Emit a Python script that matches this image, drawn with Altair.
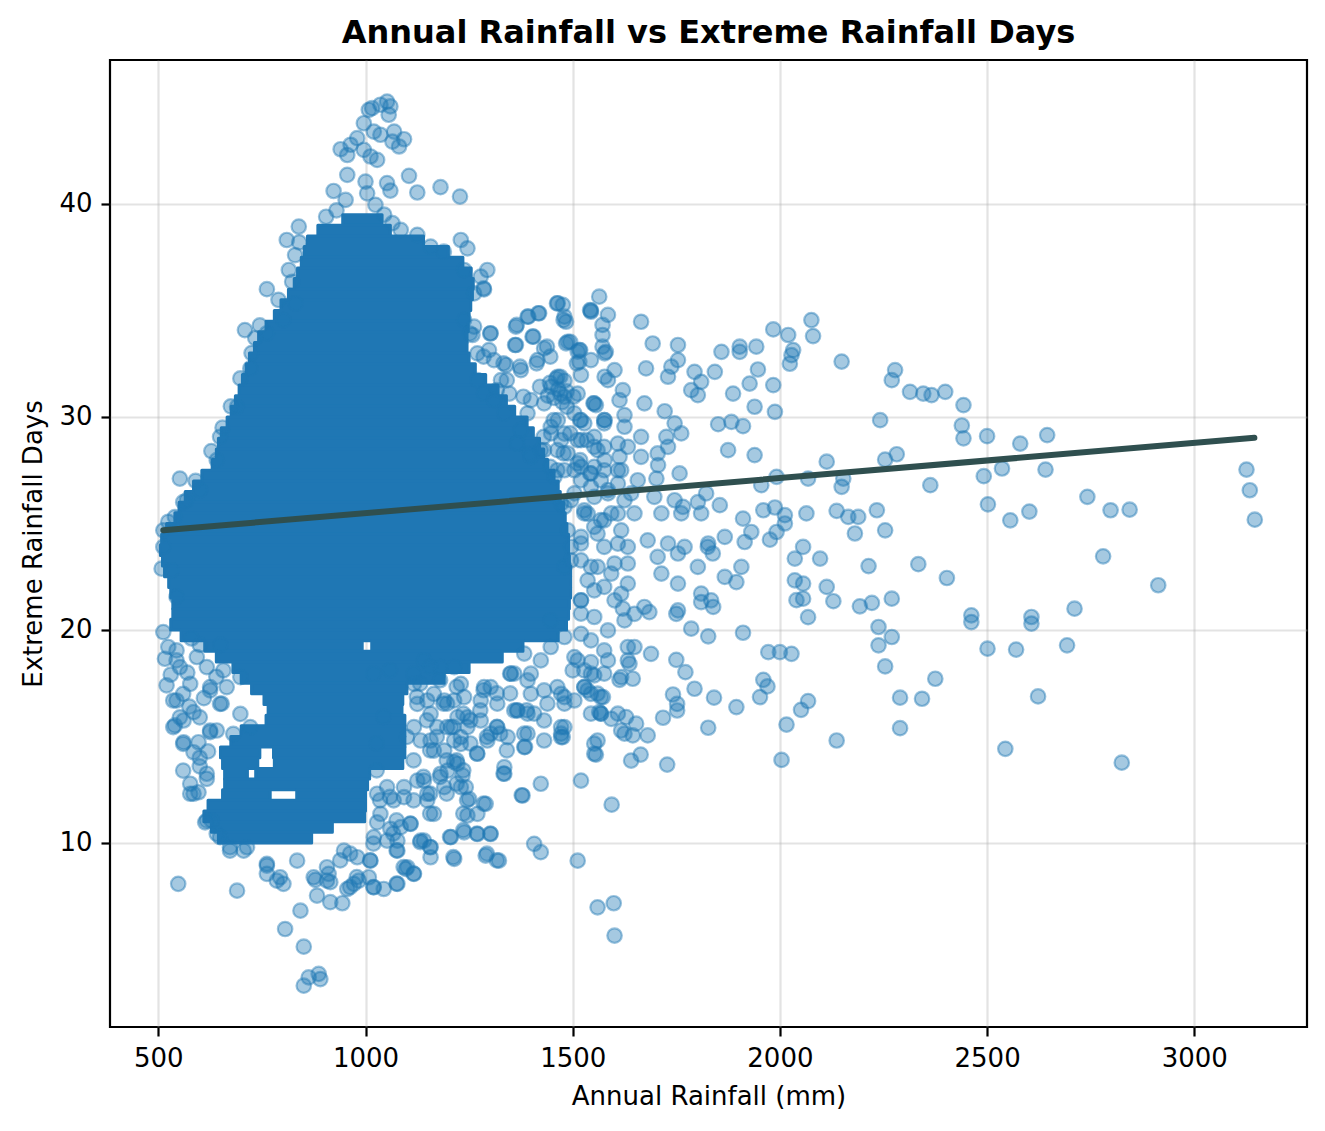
import pandas as pd
import altair as alt

# fitted trend line (end points)
trend_rain = [512, 3145]
trend_days = [24.68, 29.02]

# saturated core of the cloud: (days_lo, days_hi, rain_lo, rain_hi)
core_spans = [
    (39.0, 39.5, 945, 1040), (38.5, 39.0, 885, 1060), (38.0, 38.5, 860, 1140),
    (37.5, 38.0, 852, 1200), (37.0, 37.5, 845, 1235), (36.5, 37.0, 836, 1255),
    (36.0, 36.5, 828, 1260), (35.5, 36.0, 814, 1258), (35.0, 35.5, 796, 1254),
    (34.5, 35.0, 780, 1250), (34.0, 34.5, 760, 1248), (33.5, 34.0, 742, 1245),
    (33.0, 33.5, 732, 1245), (32.5, 33.0, 720, 1250), (32.0, 32.5, 712, 1265),
    (31.5, 32.0, 703, 1290), (31.0, 31.5, 695, 1320), (30.5, 31.0, 686, 1340),
    (30.0, 30.5, 676, 1360), (29.5, 30.0, 666, 1390), (29.0, 29.5, 652, 1405),
    (28.5, 29.0, 645, 1420), (28.0, 28.5, 640, 1430), (27.5, 28.0, 630, 1440),
    (27.0, 27.5, 605, 1455), (26.5, 27.0, 585, 1465), (26.0, 26.5, 565, 1470),
    (25.5, 26.0, 550, 1478), (25.0, 25.5, 540, 1482), (24.5, 25.0, 520, 1486),
    (24.0, 24.5, 508, 1490), (23.5, 24.0, 505, 1490), (23.0, 23.5, 510, 1492),
    (22.5, 23.0, 515, 1495), (22.0, 22.5, 525, 1495), (21.5, 22.0, 530, 1495),
    (21.0, 21.5, 535, 1492), (20.5, 21.0, 535, 1490), (20.0, 20.5, 530, 1485),
    (19.5, 20.0, 555, 1465), (19.0, 19.5, 612, 992), (19.0, 19.5, 1015, 1380),
    (18.5, 19.0, 640, 1330), (18.0, 18.5, 680, 1250), (17.5, 18.0, 700, 1190),
    (17.0, 17.5, 725, 1100), (16.5, 17.0, 755, 1090), (16.0, 16.5, 765, 1088),
    (15.5, 16.0, 760, 1095), (15.0, 15.5, 700, 1095), (14.5, 15.0, 675, 1095),
    (14.0, 14.5, 650, 745), (14.0, 14.5, 778, 1095), (13.5, 14.0, 655, 740),
    (13.5, 14.0, 780, 1090), (13.0, 13.5, 660, 715), (13.0, 13.5, 735, 1010),
    (12.5, 13.0, 660, 1005), (12.0, 12.5, 655, 770), (12.0, 12.5, 834, 1000),
    (11.5, 12.0, 620, 1000), (11.0, 11.5, 610, 998), (10.5, 11.0, 628, 920),
    (10.0, 10.5, 645, 870),
]

# (annual rainfall, extreme days) of the single points that stand out
peak_pts = [
    (1052, 44.81), (1036, 44.66), (1016, 44.50), (1060, 44.58), (1056, 44.19),
    (1008, 44.42), (996, 43.79), (1020, 43.40), (1036, 43.25), (1069, 43.40),
    (1093, 43.04), (1081, 42.70), (1065, 42.93), (980, 43.09), (964, 42.78),
    (940, 42.57), (956, 42.30), (996, 42.54), (1028, 42.07), (1012, 42.23),
    (956, 41.37), (1000, 41.05), (1052, 40.98), (1060, 40.63), (923, 40.61),
    (952, 40.19), (1024, 39.96), (1105, 41.32), (1125, 40.54), (1181, 40.79),
    (1228, 40.35), (1004, 40.50), (905, 39.40), (930, 39.70), (1045, 39.50),
    (1065, 39.10), (839, 38.94), (810, 38.31), (1085, 38.78), (1125, 38.55),
    (1157, 38.00), (1189, 37.76), (1230, 38.31), (1246, 37.92), (1238, 36.90),
    (1278, 36.59), (1294, 36.90), (1286, 35.99), (1262, 35.80), (1238, 34.55),
    (1262, 34.24), (1302, 33.93), (1298, 33.14), (1270, 31.73), (1286, 31.10),
    (1285, 36.04), (1252, 33.92), (1301, 33.92), (1365, 34.32), (1393, 34.71),
    (1417, 34.87), (1462, 35.33), (1478, 34.55), (1405, 33.77), (1361, 33.38),
    (1438, 33.30), (1333, 32.52), (1373, 32.36), (1413, 32.52), (1446, 32.83),
    (1494, 33.53), (1518, 33.14), (1510, 32.52), (1542, 35.02), (1285, 32.83),
    (1341, 31.73), (1317, 31.26), (1381, 30.95), (1421, 31.42), (1470, 31.89),
    (1470, 31.10), (1486, 30.48), (1502, 30.95), (1518, 29.85), (1550, 30.64),
    (1494, 29.23), (1534, 28.91), (1454, 29.85), (1430, 29.07), (1478, 28.29),
    (1446, 27.66), (1518, 27.97), (1542, 27.35), (1365, 28.76), (1397, 28.29),
    (1445, 31.60), (1465, 31.30), (1480, 31.70), (1455, 30.90), (1475, 30.70),
    (1440, 31.00), (1460, 31.80), (1485, 31.20),
]

left_pts = [
    (762, 36.00), (709, 34.08), (734, 33.70), (762, 33.93), (698, 31.81),
    (722, 32.28), (690, 30.48), (649, 29.07), (641, 27.97), (552, 27.11),
    (569, 26.10), (601, 26.57), (524, 25.08), (512, 24.68), (823, 36.35),
    (802, 34.55), (831, 35.34), (655, 29.50), (628, 28.40), (590, 27.00),
    (560, 26.00), (540, 25.30), (675, 30.50), (725, 33.00), (745, 34.30),
    (790, 35.50), (815, 36.90), (830, 37.60), (840, 38.20),
    (512, 23.90), (508, 22.88), (532, 22.80), (544, 21.55), (512, 19.90),
    (524, 19.20), (516, 18.65), (544, 18.57), (520, 17.40), (544, 16.69),
    (585, 16.14), (540, 15.52), (561, 15.75), (561, 14.73), (597, 14.73),
    (585, 14.26), (625, 17.32), (653, 16.54), (625, 15.20), (641, 15.28),
    (577, 12.78), (577, 12.31), (597, 12.38), (617, 13.01),
    (536, 16.69), (552, 15.90), (536, 15.44), (560, 14.65), (625, 15.28),
    (649, 16.53), (665, 17.32), (698, 16.06), (722, 15.44), (681, 15.12),
    (617, 18.26), (657, 18.10), (593, 18.73), (552, 18.26), (544, 19.04),
    (577, 17.47), (625, 17.16), (698, 17.79), (585, 12.31), (617, 13.25),
    (617, 11.05), (641, 10.43), (673, 9.80), (714, 9.80),
    (530, 17.90), (560, 17.00), (575, 16.40), (600, 15.90), (610, 16.80),
    (640, 17.80), (600, 19.30), (580, 19.60), (650, 19.30), (570, 18.00),
    (600, 14.00), (620, 14.30), (560, 13.40), (600, 13.60),
]

low_pts = [
    (762, 9.02), (794, 8.39), (835, 9.17), (875, 8.39), (907, 8.86), (907, 8.23),
    (948, 9.64), (980, 9.33), (1012, 9.17), (1020, 7.92), (972, 8.08), (548, 8.08),
    (690, 7.76), (613, 10.97), (629, 11.05), (649, 10.27), (673, 9.64), (706, 9.64),
    (762, 8.94), (762, 8.55), (786, 8.23), (802, 8.08), (879, 8.27), (911, 8.55),
    (915, 8.16), (883, 7.53), (915, 7.22), (944, 7.17), (843, 6.82), (806, 5.96),
    (851, 5.13), (851, 3.30), (863, 3.69), (887, 3.85), (891, 3.61), (956, 7.84),
    (984, 8.23), (1008, 8.39), (1044, 7.84), (1077, 8.08), (1097, 8.78), (1117, 8.55),
    (1133, 10.11), (1157, 9.33), (1214, 9.25), (1206, 10.27), (1238, 10.50), (1270, 10.42),
    (1302, 10.42), (1290, 9.41), (1322, 9.17), (1407, 9.96), (1423, 9.57), (1512, 9.17),
    (1560, 6.98), (1599, 7.17), (1601, 5.65), (1520, 12.93), (1423, 12.78), (1379, 12.23),
    (1335, 13.25), (1335, 13.56), (1290, 11.84), (1270, 11.37), (1246, 11.29), (1250, 12.07),
    (1242, 12.62), (1234, 13.17), (1222, 13.72), (1165, 11.37), (1149, 12.00), (1109, 10.90),
    (1077, 10.11), (1077, 9.64), (1060, 10.66), (1028, 10.97), (1028, 12.31), (1052, 12.62),
    (1093, 12.15), (1141, 12.93), (1190, 12.62), (1198, 13.40), (1214, 13.80), (1270, 14.19),
    (1036, 11.37), (1068, 12.00), (1093, 12.62), (1125, 12.93), (1149, 12.31), (1181, 13.25),
    (1165, 14.34), (1133, 14.81), (1117, 15.44), (1157, 16.06), (1206, 15.44),
    (1230, 14.65), (1230, 12.62), (1157, 9.80), (1101, 8.86),
    (1141, 10.11), (1085, 10.74), (1020, 10.27), (1052, 10.11),
    (1117, 17.47), (1165, 17.00), (1214, 16.69), (1230, 17.47), (1181, 18.26), (1141, 18.57),
    (1214, 18.26), (1246, 15.90), (1125, 16.53),
    (1019, 17.95), (1059, 18.11), (1116, 17.95), (1156, 18.27), (1188, 16.54), (1124, 16.86),
    (1148, 15.76), (1172, 14.98), (1156, 14.35), (1100, 14.98), (1116, 13.88), (1140, 13.10),
    (1180, 13.10), (1196, 12.32), (1156, 12.32), (1116, 12.00), (1059, 12.16), (1075, 11.06),
    (1108, 10.91), (1156, 11.38), (1132, 10.04), (1156, 9.81), (1067, 10.44), (1075, 9.65),
    (1019, 9.97), (1011, 9.18), (963, 9.50), (939, 9.18), (979, 8.40), (963, 7.93),
    (1019, 7.93), (1075, 8.09), (1116, 8.56), (1092, 8.87), (1212, 9.34), (1204, 10.28),
    (1236, 10.60), (1269, 10.44), (1301, 10.44), (1293, 9.50), (1317, 9.18), (1285, 11.85),
    (1236, 11.38), (1245, 12.00), (1196, 13.88), (1220, 12.79), (1236, 13.41), (1220, 13.88),
    (1253, 14.67), (1269, 14.20), (1253, 15.76), (1212, 15.45), (1236, 16.07), (1277, 16.23),
    (1317, 15.45), (1293, 14.98), (1325, 15.13), (1341, 14.35), (1333, 13.26), (1285, 17.17),
    (1317, 17.02), (1349, 17.02), (1365, 16.23), (1389, 16.23), (1385, 14.51), (1377, 12.24),
    (1349, 17.95), (1220, 17.33), (1180, 17.64), (1132, 17.48), (1043, 15.92), (1027, 14.67),
    (1035, 12.00), (1027, 13.41),
]

mid_pts = [
    (1464, 35.34), (1480, 34.71), (1544, 35.00), (1391, 34.71), (1419, 34.87), (1363, 34.24),
    (1258, 33.85), (1403, 33.77), (1363, 33.38), (1431, 33.22), (1484, 33.46), (1512, 33.07),
    (1339, 32.44), (1520, 31.97), (1577, 31.89), (1552, 30.64), (1577, 29.85), (1327, 31.73),
    (1347, 31.10), (1399, 30.79), (1310, 30.79), (1464, 31.89), (1480, 30.95), (1504, 30.17),
    (1528, 29.70), (1448, 29.23), (1520, 28.91), (1552, 28.60), (1375, 29.38), (1431, 28.44),
    (1512, 27.82), (1544, 27.35), (1480, 27.50), (1456, 27.19), (1504, 26.41), (1552, 26.25),
    (1528, 25.47), (1568, 25.16),
    (1270, 32.99), (1310, 32.67), (1375, 32.20), (1415, 32.67), (1448, 31.42), (1391, 30.17),
    (1335, 30.17), (1431, 30.64), (1464, 29.85), (1512, 31.10), (1544, 32.67), (1577, 32.99),
    (1367, 28.76), (1399, 28.13), (1488, 28.29), (1577, 27.97), (1585, 26.57), (1472, 25.94),
    (1480, 29.22), (1512, 28.91), (1576, 29.70), (1625, 29.54), (1560, 28.44), (1609, 28.75),
    (1463, 27.50), (1520, 27.66), (1576, 27.50), (1617, 27.50), (1544, 26.72), (1609, 26.87),
    (1625, 26.09), (1536, 25.46), (1576, 25.15), (1609, 25.46), (1520, 24.37), (1560, 24.52),
    (1609, 24.05), (1633, 23.90), (1520, 23.27), (1560, 22.96), (1601, 23.12), (1536, 22.33),
    (1576, 22.02), (1617, 21.70), (1520, 21.39), (1520, 20.77), (1552, 20.61), (1585, 19.98),
    (1625, 20.45), (1544, 19.51), (1576, 19.04), (1633, 19.20), (1512, 18.57), (1544, 17.95),
    (1576, 17.95), (1617, 17.79), (1560, 17.01), (1528, 17.32), (1463, 17.32), (1399, 17.95),
    (1359, 17.95), (1423, 18.57), (1383, 18.89), (1447, 19.20), (1480, 19.67), (1447, 20.45),
    (1399, 17.00), (1439, 16.54), (1480, 16.54), (1367, 16.22), (1407, 16.07), (1318, 16.54),
    (1286, 17.32), (1238, 16.85), (1197, 16.54), (1278, 15.75), (1197, 15.44), (1230, 14.97),
    (1302, 15.13), (1343, 14.97), (1383, 15.13), (1472, 15.13), (1560, 14.81), (1625, 15.13),
    (1609, 16.07), (1568, 16.07), (1633, 18.57), (1585, 18.57), (1480, 22.96), (1496, 23.90),
    (1488, 24.68), (1480, 25.78), (1463, 28.44), (1447, 29.54), (1472, 28.91), (1423, 28.44),
    (1351, 17.95), (1391, 17.63), (1431, 17.16), (1472, 17.00), (1359, 16.22), (1391, 16.07),
    (1431, 15.75), (1472, 15.44), (1391, 15.13), (1472, 14.97), (1431, 14.81), (1383, 14.50),
    (1552, 14.66), (1552, 14.19), (1318, 15.44), (1294, 14.81), (1278, 16.69), (1302, 17.32),
    (1246, 15.44), (1214, 14.81), (1222, 15.91), (1173, 15.44), (1157, 14.81), (1190, 16.69),
    (1149, 16.69), (1190, 14.34), (1528, 17.32), (1544, 17.00), (1504, 16.69), (1544, 16.07),
    (1568, 16.85), (1528, 18.10), (1504, 18.73), (1568, 16.07),
    (1520, 29.85), (1576, 29.85), (1625, 30.09), (1552, 29.07), (1576, 28.60), (1633, 28.60),
    (1665, 28.13), (1705, 28.29), (1613, 28.13), (1552, 27.66), (1609, 27.50), (1657, 27.03),
    (1568, 27.03), (1504, 27.50), (1520, 27.03), (1585, 26.41), (1641, 26.41), (1697, 26.25),
    (1746, 26.09), (1496, 26.09), (1528, 25.62), (1593, 25.47), (1649, 25.47), (1714, 25.47),
    (1762, 25.47), (1810, 25.47), (1552, 24.84), (1617, 24.68), (1681, 24.21), (1730, 24.06),
    (1770, 23.90), (1826, 23.90), (1520, 24.06), (1576, 23.90), (1633, 23.12), (1705, 23.43),
    (1754, 23.59), (1802, 22.96), (1496, 23.27), (1544, 22.96), (1593, 22.65), (1633, 22.18),
    (1714, 22.65), (1754, 22.18), (1810, 21.71), (1834, 21.39), (1552, 21.86), (1520, 21.39),
    (1601, 21.39), (1673, 21.08), (1754, 20.92),
]

far_pts = [
    (1564, 35.65), (1544, 34.94), (1585, 34.79), (1665, 34.47), (1572, 34.32), (1572, 33.85),
    (1476, 35.26), (1484, 34.47), (1488, 33.53), (1516, 33.14), (1572, 33.30), (1580, 33.06),
    (1516, 32.59), (1693, 33.45), (1754, 33.38), (1754, 32.67), (1859, 33.06), (1903, 33.30),
    (1903, 33.06), (1943, 33.30), (1984, 34.11), (2020, 33.85), (2076, 34.55), (2080, 33.80),
    (2032, 33.14), (2028, 32.90), (2024, 32.50), (2149, 32.60), (2278, 32.20), (2270, 31.73),
    (2314, 31.18), (2346, 31.10), (2366, 31.03), (2399, 31.18), (2443, 30.56), (2439, 29.60),
    (2443, 29.00), (2242, 29.85), (1677, 32.28), (1601, 32.20), (1585, 31.73), (1621, 31.26),
    (1556, 30.56), (1613, 30.79), (1673, 30.64), (1730, 31.89), (1738, 32.36), (1794, 32.12),
    (1810, 31.65), (1843, 32.12), (1802, 31.03), (1786, 31.26), (1887, 31.10), (1927, 31.57),
    (1947, 32.23), (1984, 31.50), (1939, 30.48), (1988, 30.24), (1722, 30.27), (1851, 29.66),
    (1883, 29.77), (1911, 29.57), (1746, 29.70), (1762, 29.23), (1726, 29.07), (1665, 29.07),
    (1730, 28.60), (1875, 28.44), (1939, 28.21), (2113, 27.90), (2254, 28.00), (2282, 28.25),
    (1758, 27.35), (1706, 27.74), (1702, 27.11), (1992, 27.19), (2068, 27.11), (2153, 27.11),
    (2149, 26.72), (2363, 26.80), (1955, 26.80), (1822, 26.41), (1855, 25.86), (1802, 26.00),
    (1766, 25.78), (1960, 25.62), (1988, 25.75), (2012, 25.39), (2012, 25.00), (1911, 25.23),
    (1931, 24.60), (1915, 24.13), (1976, 24.24), (1992, 24.60), (2064, 25.47), (2137, 25.59),
    (2165, 25.31), (2189, 25.31), (2181, 24.53), (2234, 25.62), (2254, 24.68), (2056, 23.90),
    (2036, 23.35), (2097, 23.35), (2036, 22.33), (2056, 22.18), (2040, 21.40), (2056, 21.47),
    (2113, 22.02), (2129, 21.35), (2214, 23.00), (2193, 21.11), (2222, 21.27), (2270, 21.47),
    (2334, 23.09), (2403, 22.44), (2068, 20.60), (1867, 22.49), (1895, 22.25), (1907, 22.96),
    (1838, 23.59), (1867, 24.37), (1827, 24.06),
    (2238, 20.14), (2270, 19.67), (2238, 19.28), (2254, 18.29), (2375, 17.71), (2290, 16.82),
    (2343, 16.77), (2290, 15.39), (2137, 14.81), (2004, 13.90), (2016, 15.56), (2051, 16.25),
    (2068, 16.66), (1972, 18.96), (2000, 18.96), (2028, 18.88), (1960, 17.66), (1970, 17.35),
    (1952, 16.85), (1911, 19.87), (1895, 16.38), (1841, 16.82), (1827, 15.41), (1794, 17.24),
    (1786, 20.06), (1827, 19.70), (1750, 18.60), (1772, 18.02), (1742, 16.97), (1752, 16.53),
    (1752, 16.22), (1718, 15.88), (1728, 13.68), (1689, 18.88), (1649, 19.20), (1637, 18.41),
    (1645, 17.71), (1613, 17.66), (1573, 16.85), (1564, 16.14), (1593, 15.83), (1617, 15.28),
    (1645, 15.05), (1681, 15.05), (1653, 15.60), (1629, 15.91), (1641, 13.87), (1664, 14.15),
    (1556, 14.15), (1594, 11.80), (1544, 18.49), (1536, 17.16), (1552, 17.87), (1500, 18.10),
    (1480, 16.85), (1480, 15.44), (1476, 14.97), (1520, 19.82), (1649, 20.76), (1621, 21.00),
    (1685, 20.84), (1750, 20.76), (1839, 21.08), (1810, 21.31),
    (2500, 29.10), (2580, 28.75), (2645, 29.15), (2536, 27.58), (2492, 27.22), (2641, 27.53),
    (2502, 25.90), (2556, 25.15), (2602, 25.56), (2742, 26.25), (2798, 25.62), (2844, 25.65),
    (3126, 27.53), (3134, 26.56), (3146, 25.18), (2780, 23.46), (2913, 22.10),
    (2462, 20.69), (2462, 20.37), (2607, 20.61), (2607, 20.30), (2711, 21.00), (2501, 19.12),
    (2570, 19.08), (2693, 19.28), (2623, 16.88), (2544, 14.42), (2825, 13.77),
]

FONT = "DejaVu Sans"
BLUE = "#1f77b4"

points = pd.DataFrame(peak_pts + left_pts + low_pts + mid_pts + far_pts,
                      columns=["rain", "days"])
core = pd.DataFrame(core_spans, columns=["d0", "d1", "r0", "r1"])
trend = pd.DataFrame({"rain": trend_rain, "days": trend_days})

x_scale = alt.Scale(domain=[383.4, 3272], nice=False, zero=False)
y_scale = alt.Scale(domain=[1.36, 46.76], nice=False, zero=False)

x_axis = alt.Axis(
    title="Annual Rainfall (mm)",
    values=[500, 1000, 1500, 2000, 2500, 3000],
    format="d",
    labelPadding=9,
    titlePadding=12,
)
y_axis = alt.Axis(
    title="Extreme Rainfall Days",
    values=[10, 20, 30, 40],
    format="d",
    labelPadding=9,
    titlePadding=12,
)

# solid part of the cloud, a same-colour stroke hides the seams between rows
blob = alt.Chart(core).mark_rect(
    color=BLUE, stroke=BLUE, strokeWidth=3, strokeJoin="round"
).encode(
    x=alt.X("r0:Q", scale=x_scale, axis=x_axis),
    x2="r1",
    y=alt.Y("d0:Q", scale=y_scale, axis=y_axis),
    y2="d1",
)

dots = alt.Chart(points).mark_circle(
    size=210,
    opacity=1,
    fill=BLUE,
    fillOpacity=0.4,
    stroke=BLUE,
    strokeOpacity=0.45,
    strokeWidth=2.2,
).encode(
    x=alt.X("rain:Q", scale=x_scale, axis=x_axis),
    y=alt.Y("days:Q", scale=y_scale, axis=y_axis),
)

line = alt.Chart(trend).mark_line(
    color="#2f4f4f", strokeWidth=6, strokeCap="round"
).encode(
    x=alt.X("rain:Q", scale=x_scale, axis=x_axis),
    y=alt.Y("days:Q", scale=y_scale, axis=y_axis),
)

chart = alt.layer(blob, dots, line).properties(
    width=1197,
    height=967,
    padding={"left": 102, "top": 52, "right": 10, "bottom": 96},
    autosize=alt.AutoSizeParams(type="none"),
    title=alt.Title(
        "Annual Rainfall vs Extreme Rainfall Days",
        font=FONT,
        fontSize=32,
        fontWeight="bold",
        color="black",
        anchor="middle",
        offset=10,
    ),
).configure_view(
    stroke="black", strokeWidth=2.2
).configure_axis(
    labelFont=FONT,
    labelFontSize=26,
    labelColor="black",
    titleFont=FONT,
    titleFontSize=26,
    titleFontWeight="normal",
    titleColor="black",
    tickColor="black",
    tickWidth=2.2,
    tickSize=9,
    domain=False,
    grid=True,
    gridColor="#b0b0b0",
    gridOpacity=0.35,
    gridWidth=2.2,
    zindex=1,
)

chart.save("out.html", embed_options={"renderer": "svg", "actions": False})
